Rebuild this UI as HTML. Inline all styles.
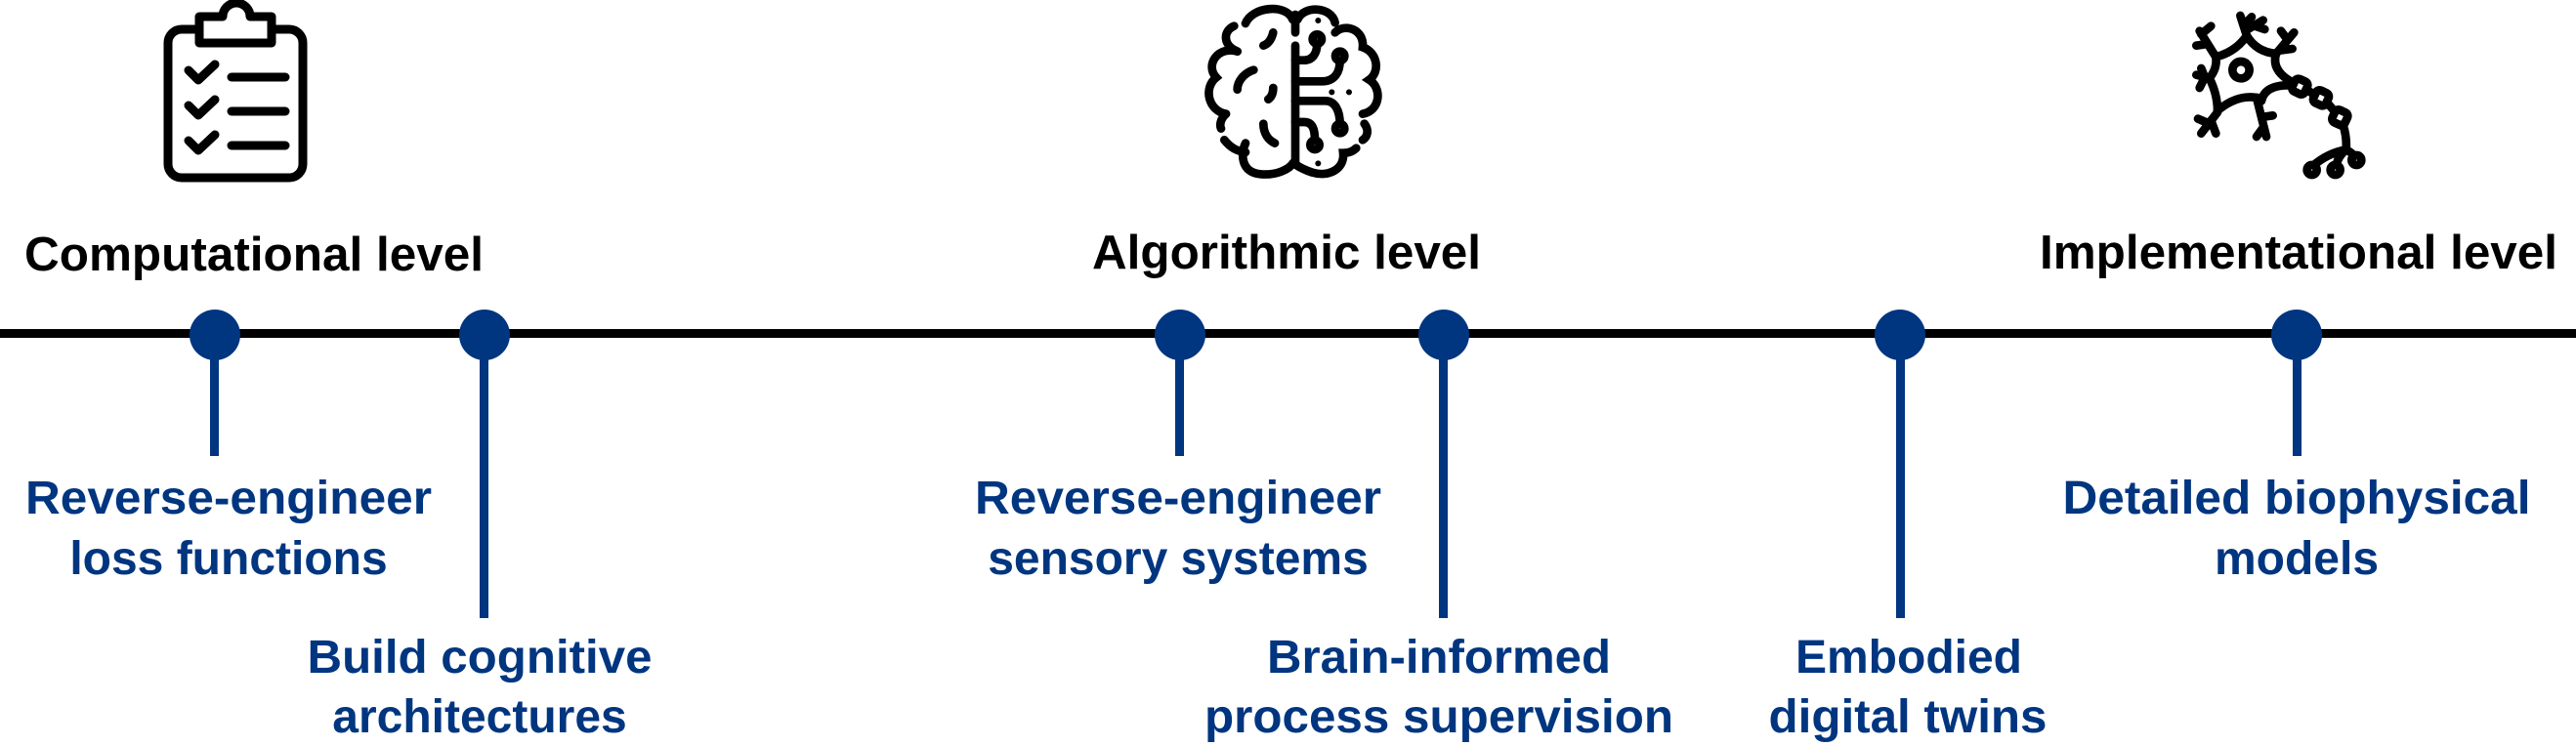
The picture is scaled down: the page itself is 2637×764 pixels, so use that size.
<!DOCTYPE html>
<html><head><meta charset="utf-8"><style>
html,body{margin:0;padding:0;background:#fff;}
body{width:2637px;height:764px;overflow:hidden;position:relative;}
svg{position:absolute;left:0;top:0;}
</style></head><body>
<svg width="2637" height="764" viewBox="0 0 2637 764" xmlns="http://www.w3.org/2000/svg">
<!-- timeline -->
<rect x="0" y="337" width="2637" height="9" fill="#000"/>
<g fill="#003580">
<rect x="215" y="343" width="9" height="124"/>
<rect x="491" y="343" width="9" height="290"/>
<rect x="1203" y="343" width="9" height="124"/>
<rect x="1473" y="343" width="9" height="290"/>
<rect x="1941" y="343" width="9" height="290"/>
<rect x="2347" y="343" width="9" height="124"/>
<ellipse cx="220" cy="343" rx="26" ry="26"/>
<ellipse cx="496" cy="343" rx="26" ry="26"/>
<ellipse cx="1208" cy="343" rx="26" ry="26"/>
<ellipse cx="1478" cy="343" rx="26" ry="26"/>
<ellipse cx="1945" cy="343" rx="26" ry="26"/>
<ellipse cx="2351" cy="343" rx="26" ry="26"/>
</g>
<g font-family="Liberation Sans, Arial, sans-serif" font-weight="bold" text-anchor="middle">
<g font-size="49" fill="#000">
<text x="260" y="277" textLength="470" lengthAdjust="spacingAndGlyphs">Computational level</text>
<text x="1317" y="275" textLength="398" lengthAdjust="spacingAndGlyphs">Algorithmic level</text>
<text x="2353" y="275" textLength="530" lengthAdjust="spacingAndGlyphs">Implementational level</text>
</g>
<g font-size="48" fill="#003580">
<text x="234" y="526" textLength="416" lengthAdjust="spacingAndGlyphs">Reverse-engineer</text>
<text x="234" y="588">loss functions</text>
<text x="491" y="689" textLength="353" lengthAdjust="spacingAndGlyphs">Build cognitive</text>
<text x="491" y="750">architectures</text>
<text x="1206" y="526" textLength="416" lengthAdjust="spacingAndGlyphs">Reverse-engineer</text>
<text x="1206" y="588">sensory systems</text>
<text x="1473" y="689" textLength="352" lengthAdjust="spacingAndGlyphs">Brain-informed</text>
<text x="1473" y="750" textLength="480" lengthAdjust="spacingAndGlyphs">process supervision</text>
<text x="1954" y="689">Embodied</text>
<text x="1953" y="750" textLength="285" lengthAdjust="spacingAndGlyphs">digital twins</text>
<text x="2351" y="526" textLength="479" lengthAdjust="spacingAndGlyphs">Detailed biophysical</text>
<text x="2351" y="588">models</text>
</g>
</g>
<!-- clipboard -->
<g fill="none" stroke="#000" stroke-width="9" stroke-linecap="round" stroke-linejoin="round">
<path d="M204,30 H186 A14,14 0 0 0 172,44 V168 A14,14 0 0 0 186,182 H296 A14,14 0 0 0 310,168 V44 A14,14 0 0 0 296,30 H278"/>
<path d="M204,17 H228 A13,13 0 0 1 256,17 H278 V44 H204 Z"/>
<path d="M193,72 L203,82 L220,66"/><path d="M237,79 H292"/>
<path d="M193,108 L203,118 L220,102"/><path d="M237,114 H292"/>
<path d="M193,144 L203,154 L220,138"/><path d="M237,149 H292"/>
</g>
<!-- brain -->
<g transform="translate(1220,0) scale(0.3333)" fill="none" stroke="#000" stroke-width="26" stroke-linecap="round">
<path d="M165,72 C185,20 290,10 310,60"/>
<path d="M130,80 C95,95 95,140 140,158"/>
<path d="M140,158 C80,140 40,200 75,238 C35,270 50,340 105,350"/>
<path d="M105,350 C88,365 85,385 90,395"/>
<path d="M100,430 C120,455 140,465 165,468"/>
<path d="M165,440 C150,470 150,530 210,535 C260,540 300,520 312,500"/>
<path d="M318,45 V100"/><path d="M318,140 V505"/>
<path d="M325,60 C345,15 430,20 440,70"/>
<path d="M440,100 C470,70 530,90 525,145 C570,160 580,220 545,245 C585,270 580,340 525,350"/>
<path d="M530,380 C545,400 540,420 525,430"/>
<path d="M505,455 C490,470 470,470 465,470 C470,520 420,545 370,530 C340,520 325,510 318,505"/>
<path d="M250,100 C245,120 235,135 220,140"/>
<path d="M190,215 C160,225 140,250 140,275"/>
<path d="M250,270 C250,285 245,298 235,305"/>
<path d="M220,380 C220,410 235,430 255,440"/>
<path d="M318,185 H345 C370,185 385,165 385,134"/>
<path d="M318,250 H400 C440,250 455,220 455,186"/>
<path d="M318,310 H410 C440,310 455,340 455,381"/>
<path d="M318,375 H345 C370,375 378,395 378,431"/>
<circle cx="385" cy="120" r="14"/><circle cx="455" cy="172" r="14"/>
<circle cx="455" cy="395" r="14"/><circle cx="378" cy="445" r="14"/>
</g>
<g transform="translate(1220,0) scale(0.3333)" fill="#000">
<circle cx="388" cy="63" r="9"/><circle cx="430" cy="283" r="9"/><circle cx="483" cy="283" r="9"/><circle cx="388" cy="502" r="9"/>
</g>
<!-- neuron -->
<g transform="translate(2220,0) scale(0.3333)" fill="none" stroke="#000" stroke-width="26" stroke-linecap="round" stroke-linejoin="round">
<circle cx="222" cy="215" r="26"/>
<path d="M145,175 Q205,160 240,110 Q270,160 330,165 Q315,215 375,250"/>
<path d="M285,310 Q295,260 375,262"/>
<path d="M285,310 Q280,300 270,300 Q210,290 150,340"/>
<path d="M150,340 Q150,290 125,240 Q150,210 145,175"/>
<path d="M145,175 L95,95 M120,135 L85,140 M100,105 L130,80"/>
<path d="M240,110 L220,48 M230,78 L255,52 M235,95 L290,62 M265,80 L295,90"/>
<path d="M330,165 L385,100 M340,155 L380,150 M365,122 L345,95"/>
<path d="M125,240 L85,230 M110,235 L100,210 M110,240 L95,270"/>
<path d="M150,345 L100,410 M130,370 L145,410 M125,380 L90,365"/>
<path d="M270,300 L300,420 M285,360 L320,355 M292,390 L270,420"/>
<rect x="382" y="245" width="42" height="42" rx="12" transform="rotate(25 403 266)"/>
<rect x="447" y="280" width="42" height="42" rx="12" transform="rotate(25 468 301)"/>
<rect x="505" y="340" width="42" height="42" rx="12" transform="rotate(25 526 361)"/>
<path d="M424,276 L447,290 M489,318 L506,338"/>
<path d="M535,382 Q548,420 545,460 Q490,470 445,508 M545,460 Q520,480 515,508 M545,460 Q565,470 570,480"/>
<circle cx="440" cy="522" r="15"/><circle cx="512" cy="522" r="15"/><circle cx="577" cy="492" r="15"/>
</g>
</svg>
</body></html>
